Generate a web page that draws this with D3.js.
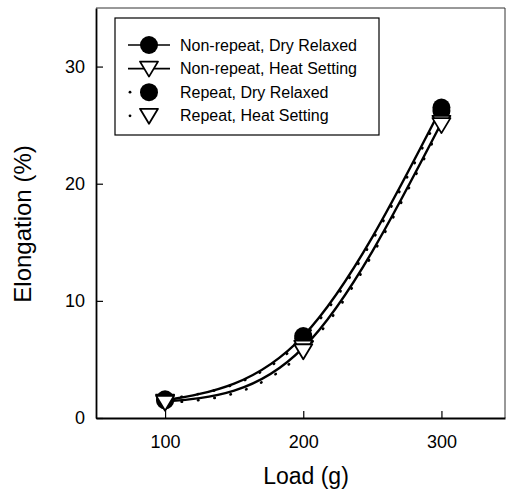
<!DOCTYPE html>
<html>
<head>
<meta charset="utf-8">
<script src="https://cdn.jsdelivr.net/npm/d3@7"></script>
<style>
    body { margin: 0; background: #fff; }
    svg { display: block; }
</style>
</head>
<body>
<svg id="chart"></svg>
<script>
const loads = [100, 200, 300];
const nonRepeatDry = [1.5, 7.0, 26.5];
const nonRepeatHeat = [1.4, 6.0, 25.2];
const repeatDry = [1.6, 6.8, 26.2];
const repeatHeat = [1.3, 5.7, 25.0];
const xTicks = [100, 200, 300];
const yTicks = [0, 10, 20, 30];

const series = [
    {name: "Non-repeat, Dry Relaxed", values: nonRepeatDry, symbol: "circle", dotted: false},
    {name: "Non-repeat, Heat Setting", values: nonRepeatHeat, symbol: "triangle", dotted: false},
    {name: "Repeat, Dry Relaxed", values: repeatDry, symbol: "circle", dotted: true},
    {name: "Repeat, Heat Setting", values: repeatHeat, symbol: "triangle", dotted: true},
];

const width = 510;
const height = 492;
const plotLeft = 96, plotRight = 505, plotTop = 8, plotBottom = 418;

const svg = d3.select("#chart")
    .attr("width", width)
    .attr("height", height)
    .attr("font-family", "Liberation Sans, Arial, sans-serif");

const x = d3.scaleLinear().domain([50, 346]).range([plotLeft, plotRight]);
const y = d3.scaleLinear().domain([0, 35]).range([plotBottom, plotTop]);

// frame (top / right are faint in the scan)
svg.append("line")
    .attr("x1", plotLeft).attr("x2", plotRight).attr("y1", plotTop).attr("y2", plotTop)
    .attr("stroke", "#333").attr("stroke-width", 1);
svg.append("line")
    .attr("x1", plotRight).attr("x2", plotRight).attr("y1", plotTop).attr("y2", plotBottom)
    .attr("stroke", "#333").attr("stroke-width", 1);

const xAxis = svg.append("g")
    .attr("transform", `translate(0,${plotBottom})`)
    .call(d3.axisBottom(x).tickValues(xTicks).tickSizeInner(-7).tickSizeOuter(0).tickPadding(17));
const yAxis = svg.append("g")
    .attr("transform", `translate(${plotLeft},0)`)
    .call(d3.axisLeft(y).tickValues(yTicks).tickSizeInner(-7).tickSizeOuter(0).tickPadding(11));

[xAxis, yAxis].forEach(a => {
    a.select(".domain").attr("stroke", "#000").attr("stroke-width", 1.8);
    a.selectAll(".tick line").attr("stroke", "#000").attr("stroke-width", 1.2);
    a.selectAll(".tick text")
        .attr("font-size", 18)
        .attr("font-family", "Liberation Sans, Arial, sans-serif")
        .attr("fill", "#000");
});

svg.append("text")
    .text("Load (g)")
    .attr("x", 306)
    .attr("y", 484)
    .attr("text-anchor", "middle")
    .attr("font-size", 23);

svg.append("text")
    .text("Elongation (%)")
    .attr("transform", "translate(31,224) rotate(-90)")
    .attr("text-anchor", "middle")
    .attr("font-size", 24);

// curves
const line = d3.line()
    .x((d, i) => x(loads[i]))
    .y(d => y(d))
    .curve(d3.curveNatural);

svg.selectAll(".curve")
    .data(series)
    .enter()
    .append("path")
    .attr("class", "curve")
    .attr("d", d => line(d.values))
    .attr("fill", "none")
    .attr("stroke", "#000")
    .attr("stroke-width", d => d.dotted ? 2.6 : 2.4)
    .attr("stroke-linecap", d => d.dotted ? "round" : "butt")
    .attr("stroke-dasharray", d => d.dotted ? "0.5,16" : null);

const triPath = "M-9,-7L9,-7L0,8Z";

function drawSymbol(g, s) {
    if (s.symbol === "circle") {
        g.append("circle").attr("r", 9).attr("fill", "#000");
    } else {
        g.append("path").attr("d", triPath)
            .attr("fill", "#fff").attr("stroke", "#000").attr("stroke-width", 1.8)
            .attr("stroke-linejoin", "round");
    }
}

// circles first, triangles on top
const order = series.filter(s => s.symbol === "circle").concat(series.filter(s => s.symbol === "triangle"));
order.forEach(s => {
    s.values.forEach((v, i) => {
        const g = svg.append("g").attr("transform", `translate(${x(loads[i])},${y(v)})`);
        drawSymbol(g, s);
    });
});

// legend
const legend = svg.append("g");
legend.append("rect")
    .attr("x", 115).attr("y", 18)
    .attr("width", 264).attr("height", 117)
    .attr("fill", "#fff")
    .attr("stroke", "#000").attr("stroke-width", 1.2);

const rows = legend.selectAll(".row")
    .data(series)
    .enter()
    .append("g")
    .attr("class", "row")
    .attr("transform", (d, i) => `translate(0,${45 + i * 23.6})`);

rows.each(function (d) {
    const g = d3.select(this);
    if (d.dotted) {
        g.append("circle").attr("cx", 130).attr("cy", 0).attr("r", 1.4).attr("fill", "#000");
    } else {
        g.append("line").attr("x1", 128).attr("x2", 170).attr("y1", 0).attr("y2", 0)
            .attr("stroke", "#000").attr("stroke-width", 1.6);
    }
    const sg = g.append("g").attr("transform", "translate(149,0)");
    drawSymbol(sg, d);
    g.append("text")
        .text(d.name)
        .attr("x", 180)
        .attr("y", 0)
        .attr("dy", "0.35em")
        .attr("font-size", 16);
});
</script>
</body>
</html>
